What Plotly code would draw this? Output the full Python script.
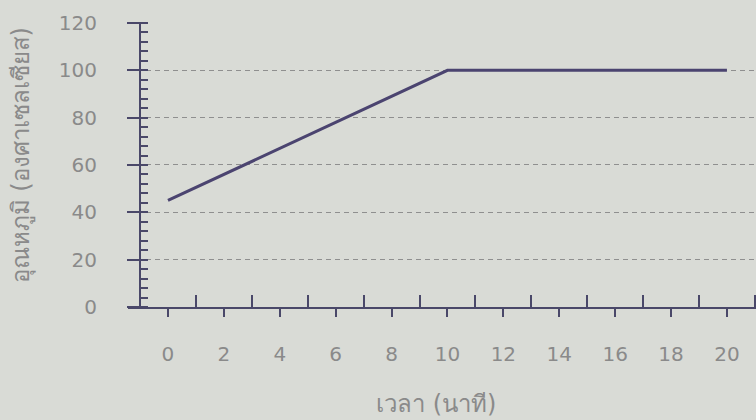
import plotly.graph_objects as go

# Data
time_min = [0, 10, 20]
temperature_c = [45, 100, 100]
x_ticks = [0, 2, 4, 6, 8, 10, 12, 14, 16, 18, 20]
y_ticks = [0, 20, 40, 60, 80, 100, 120]

axis_col = "#4a4869"
text_col = "#8a8a8a"
bg = "#d9dbd6"
font_fam = "DejaVu Sans, Noto Sans, sans-serif"

W, H = 756, 420
ml, mr, mt, mb = 128, 0, 22, 113
plot_w = W - ml - mr
yaxis_px = 140
pos = (yaxis_px - ml) / plot_w

fig = go.Figure()
fig.add_trace(go.Scatter(x=time_min, y=temperature_c, mode="lines",
                         line=dict(color="#4b4470", width=3), showlegend=False,
                         hoverinfo="skip"))
# invisible trace for second y axis
fig.add_trace(go.Scatter(x=[time_min[0]], y=[temperature_c[0]], yaxis="y2",
                         mode="markers", marker=dict(opacity=0), showlegend=False,
                         hoverinfo="skip"))

fig.update_layout(
    width=W, height=H,
    margin=dict(l=ml, r=mr, t=mt, b=mb),
    paper_bgcolor=bg, plot_bgcolor=bg,
    font=dict(family=font_fam, color=text_col, size=20),
    hovermode=False,
    xaxis=dict(
        range=[-1.43, 21.04],
        tickmode="linear", tick0=x_ticks[0], dtick=x_ticks[1] - x_ticks[0],
        ticks="outside", ticklen=8, tickwidth=2, tickcolor=axis_col,
        minor=dict(dtick=2, tick0=1, ticks="inside", ticklen=12, tickwidth=2,
                   tickcolor=axis_col, showgrid=False),
        showline=True, linecolor=axis_col, linewidth=2,
        showgrid=False, zeroline=False,
        ticklabelstandoff=20,
        tickfont=dict(size=20, color=text_col),
    ),
    yaxis=dict(
        range=[0, 120.4], anchor="free", position=pos,
        tickmode="linear", tick0=y_ticks[0], dtick=y_ticks[1] - y_ticks[0],
        ticks="outside", ticklen=12, tickwidth=2, tickcolor=axis_col,
        minor=dict(dtick=4, tick0=0, ticks="inside", ticklen=7, tickwidth=2,
                   tickcolor=axis_col, showgrid=False),
        showline=True, linecolor=axis_col, linewidth=2,
        showgrid=True, gridcolor="#8f8f8f", griddash="5px,4px", gridwidth=1,
        zeroline=False,
        ticklabelstandoff=26,
        tickfont=dict(size=20, color=text_col),
    ),
    yaxis2=dict(
        range=[0, 120.4], overlaying="y", anchor="free", position=pos,
        tickmode="linear", tick0=0, dtick=20,
        ticks="inside", ticklen=7, tickwidth=2, tickcolor=axis_col,
        showticklabels=False, showgrid=False, zeroline=False, showline=False,
    ),
    annotations=[
        dict(text="อุณหภูมิ (องศาเซลเซียส)", xref="paper", yref="paper",
             x=0, y=0.53, xshift=-123, textangle=-90, showarrow=False,
             font=dict(size=24, color=text_col)),
        dict(text="เวลา (นาที)", xref="paper", yref="paper",
             x=0.49, y=0, yshift=-113, showarrow=False,
             font=dict(size=24, color=text_col)),
    ],
)

fig.write_html("out.html", config={"displayModeBar": False},
               post_script="document.body.style.margin='0';document.body.style.background='#d9dbd6';")
